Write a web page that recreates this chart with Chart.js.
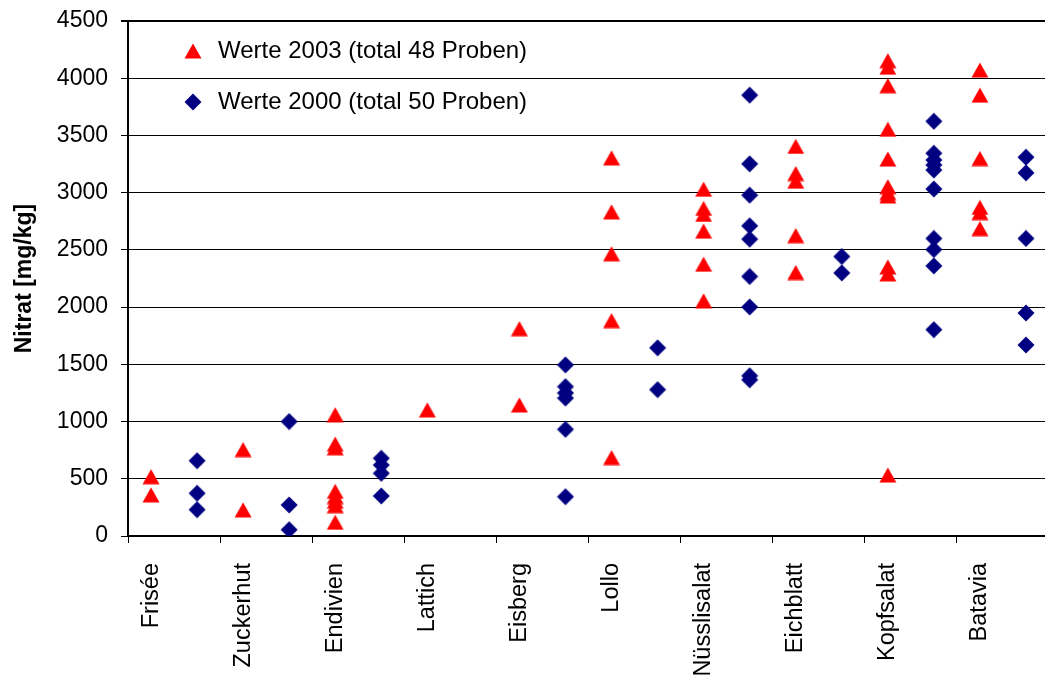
<!DOCTYPE html>
<html>
<head>
<meta charset="utf-8">
<script src="https://cdn.jsdelivr.net/npm/chart.js@4/dist/chart.umd.min.js"></script>
<style>
  html, body { margin: 0; padding: 0; overflow: hidden; background: #fff; }
  #wrap { width: 1049px; height: 677px; }
</style>
</head>
<body>
<div id="wrap"><canvas id="c"></canvas></div>
<script>
// Salad types along the x axis
const categories = ['Frisée', 'Zuckerhut', 'Endivien', 'Lattich', 'Eisberg',
                    'Lollo', 'Nüsslisalat', 'Eichblatt', 'Kopfsalat', 'Batavia'];

// Nitrate per sample [mg/kg], one list per salad type
const werte2003 = [
  [518, 359],
  [755, 228],
  [1060, 803, 771, 390, 345, 305, 265, 120],
  [1102],
  [1812, 1145],
  [3304, 2832, 2466, 1882, 685],
  [3030, 2862, 2810, 2664, 2375, 2055],
  [3404, 3167, 3100, 2625, 2302],
  [4153, 4096, 3935, 3554, 3294, 3052, 3000, 2971, 2351, 2290, 533],
  [4071, 3852, 3298, 2871, 2826, 2686]
];
const werte2000 = [
  [658, 373, 230],
  [1000, 271, 55],
  [679, 620, 548, 350],
  [],
  [1495, 1305, 1250, 1205, 932, 343],
  [1644, 1279],
  [3852, 3252, 2978, 2710, 2594, 2268, 2001, 1400, 1365],
  [2442, 2299],
  [3624, 3344, 3285, 3242, 3198, 3032, 2600, 2503, 2360, 1803],
  [3310, 3173, 2600, 1949, 1669]
];

const seriesLabels = ['Werte 2003 (total 48 Proben)', 'Werte 2000 (total 50 Proben)'];
const yTitle = 'Nitrat [mg/kg]';
const yMin = 0, yMax = 4500, yStep = 500;

// Each salad type occupies two slots: 2003 left, 2000 right
function slotPoints(groups, slot) {
  const pts = [];
  groups.forEach((vals, i) => vals.forEach(v => pts.push({ x: 2 * i + slot, y: v })));
  return pts;
}

// x ticks: category boundaries (tick marks) and slot centres (labels)
const xTickValues = [];
categories.forEach((_, i) => { xTickValues.push(2 * i - 0.5, 2 * i); });
xTickValues.push(2 * categories.length - 0.5);

function triangleMarker(color) {
  const c = document.createElement('canvas');
  c.width = 18; c.height = 16;
  const g = c.getContext('2d');
  g.fillStyle = color;
  g.beginPath();
  g.moveTo(9, 0.5); g.lineTo(17.5, 15.5); g.lineTo(0.5, 15.5);
  g.closePath(); g.fill();
  return c;
}
function diamondMarker(color) {
  const c = document.createElement('canvas');
  c.width = 18; c.height = 18;
  const g = c.getContext('2d');
  g.fillStyle = color;
  g.beginPath();
  g.moveTo(9, 0.5); g.lineTo(17.5, 9); g.lineTo(9, 17.5); g.lineTo(0.5, 9);
  g.closePath(); g.fill();
  return c;
}

const FONT = '"Liberation Sans", Arial, sans-serif';

// Places the legend block in the upper-left corner of the plot
const legendInset = {
  id: 'legendInset',
  afterLayout(chart) {
    const lg = chart.legend, a = chart.chartArea;
    lg.left = a.left + 25;
    lg.top = a.top - 9;
    lg.right = lg.left + lg.width;
    lg.bottom = lg.top + lg.height;
  }
};

new Chart(document.getElementById('c'), {
  type: 'scatter',
  data: {
    datasets: [
      {
        label: seriesLabels[0],
        data: slotPoints(werte2003, 0),
        pointStyle: triangleMarker('#FF0000'),
        pointRadius: 9,
        backgroundColor: '#FF0000',
        borderColor: '#FF0000'
      },
      {
        label: seriesLabels[1],
        data: slotPoints(werte2000, 1),
        pointStyle: diamondMarker('#000080'),
        pointRadius: 9,
        backgroundColor: '#000080',
        borderColor: '#000080'
      }
    ]
  },
  plugins: [legendInset],
  options: {
    responsive: true,
    maintainAspectRatio: false,
    animation: false,
    events: [],
    layout: { autoPadding: false, padding: { top: 21, left: 0, right: 0, bottom: 0 } },
    plugins: {
      tooltip: { enabled: false },
      legend: {
        position: 'chartArea',
        align: 'start',
        labels: {
          usePointStyle: true,
          pointStyleWidth: 26,
          padding: 27,
          color: '#000',
          font: { family: FONT, size: 24 }
        }
      }
    },
    scales: {
      x: {
        type: 'linear',
        min: -0.5,
        max: 2 * categories.length - 0.5,
        afterBuildTicks: (scale) => { scale.ticks = xTickValues.map(v => ({ value: v })); },
        afterFit: (scale) => { scale.height = 141; scale.paddingLeft = 0; scale.paddingRight = 0; },
        border: { display: true, color: '#000', width: 2 },
        grid: {
          drawOnChartArea: false,
          drawTicks: true,
          tickLength: 7,
          tickWidth: 1,
          tickColor: (ctx) => (ctx.tick && Number.isInteger(ctx.tick.value)) ? 'rgba(0,0,0,0)' : '#000'
        },
        ticks: {
          autoSkip: false,
          minRotation: 90,
          maxRotation: 90,
          padding: 20,
          color: '#000',
          font: { family: FONT, size: 23.5 },
          callback: (v) => Number.isInteger(v) ? categories[v / 2] : ''
        }
      },
      y: {
        min: yMin,
        max: yMax,
        afterFit: (scale) => { scale.width = 128; scale.paddingTop = 0; scale.paddingBottom = 0; },
        border: { display: true, color: '#000', width: 2 },
        grid: {
          color: '#000',
          lineWidth: (ctx) => (ctx.tick && ctx.tick.value === yMax) ? 2 : 1,
          tickLength: 7,
          tickColor: '#000'
        },
        ticks: {
          stepSize: yStep,
          padding: 13,
          color: '#000',
          font: { family: FONT, size: 23 },
          callback: (v) => String(v)
        },
        title: {
          display: true,
          text: yTitle,
          color: '#000',
          padding: { top: 11, bottom: 0 },
          font: { family: FONT, size: 23, weight: 'bold' }
        }
      }
    }
  }
});
</script>
</body>
</html>
